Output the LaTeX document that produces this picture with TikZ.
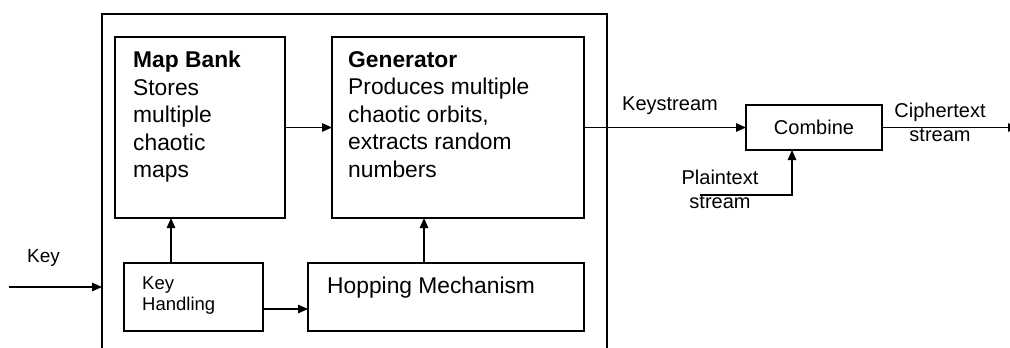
\documentclass[tikz,border=0pt]{standalone}
\usepackage{fontspec}
\setmainfont{Liberation Sans}
\usetikzlibrary{arrows.meta,calc}
\begin{document}
\begin{tikzpicture}[x=1pt,y=-1pt,
  box/.style={draw, line width=1.2pt, inner sep=0pt, outer sep=0pt, anchor=north west},
  arr/.style={-{Triangle[length=10pt,width=8.5pt]}, line width=1.2pt},
  boxtext/.style={anchor=north west, inner sep=0pt, align=left, font=\fontsize{22.8}{27.5}\selectfont},
  lbl/.style={inner sep=0pt, font=\fontsize{20}{24}\selectfont}]
\useasboundingbox (0,0) rectangle (1010,348);
\clip (0,0) rectangle (1010,348);

% enclosing system block (open at the bottom edge)
\node[box, minimum width=505pt, minimum height=360pt] (outer) at (102,14) {};

% inner blocks
\node[box, minimum width=170pt, minimum height=181pt] (mb) at (115,37) {};
\node[box, minimum width=252pt, minimum height=181pt] (gen) at (332,37) {};
\node[box, minimum width=139pt, minimum height=68pt] (kh) at (124,263) {};
\node[box, minimum width=276pt, minimum height=68pt] (hop) at (308,263) {};
\node[box, minimum width=136pt, minimum height=45pt, anchor=north west,
      font=\fontsize{20}{24}\selectfont] (comb) at (746,105) {Combine};

% block texts
\node[boxtext] (mbt) at (133,51) {{\bfseries Map Bank}\\Stores\\multiple\\chaotic\\maps};
\node[boxtext] (gent) at (348,51) {{\bfseries Generator}\\Produces multiple\\chaotic orbits,\\extracts random\\numbers};
\node[boxtext, font=\fontsize{18.5}{21}\selectfont] (kht) at (142,277) {Key\\Handling};
\node[anchor=base west, inner sep=0pt, font=\fontsize{22.8}{27}\selectfont] (hopt) at (327,293) {Hopping Mechanism};

% signal labels
\node[lbl, anchor=base west, font=\fontsize{19}{23}\selectfont] (keyl) at (27,262) {Key};
\node[lbl, anchor=base west] (ksl) at (622,110) {Keystream};
\node[lbl, anchor=north, align=center] (ctl) at (940,103) {Ciphertext\\stream};
\node[lbl, anchor=north, align=center] (ptl) at (720,170) {Plaintext\\stream};

% connector end points
\coordinate (keyin) at (9,287);
\coordinate (khup) at ([xshift=47pt]kh.north west);
\coordinate (hopup) at ([xshift=116pt]hop.north west);
\coordinate (khr) at ([yshift=-46pt]kh.north east);
\coordinate (ctout) at (1018,127.5);
\coordinate (ptin) at (700,195);
\coordinate (cbin) at ([xshift=46pt]comb.south west);

% connectors
\draw[arr] (keyin) -- (keyin -| outer.west);
\draw[arr] (khup) -- (khup |- mb.south);
\draw[arr] (hopup) -- (hopup |- gen.south);
\draw[arr] (khr) -- (khr -| hop.west);
\draw[arr] (mb.east) -- (gen.west);
\draw[arr] (gen.east) -- (comb.west);
\draw[arr] (comb.east) -- (ctout);
\draw[arr] (ptin) -| (cbin);
\end{tikzpicture}
\end{document}
